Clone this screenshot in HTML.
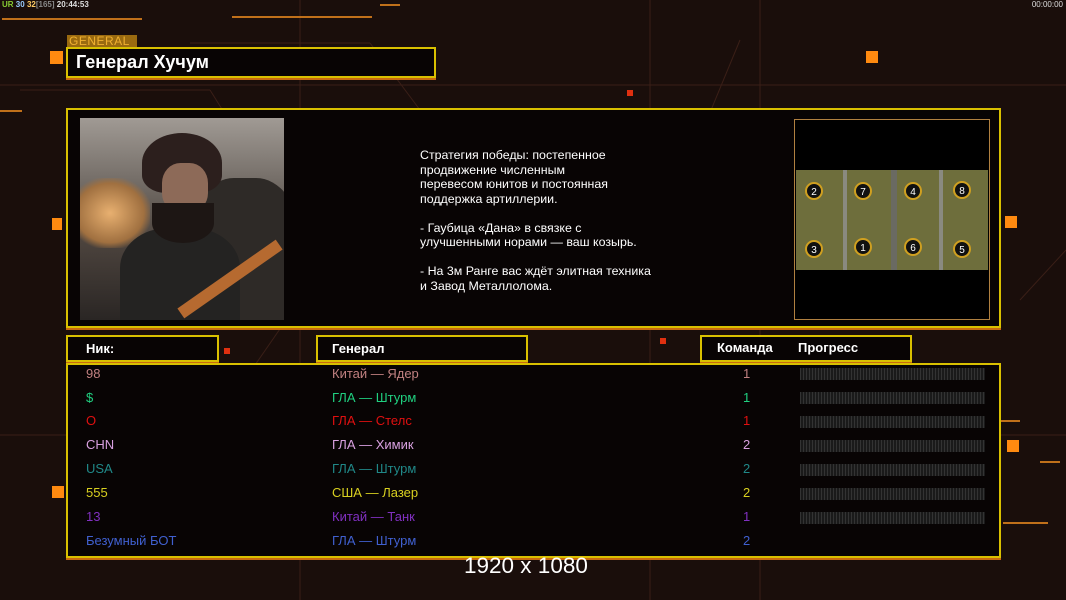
<!DOCTYPE html>
<html><head><meta charset="utf-8">
<style>
*{margin:0;padding:0;box-sizing:border-box}
body{width:1066px;height:600px;overflow:hidden;background:#1a0e0b;font-family:"Liberation Sans",sans-serif;position:relative}
.a{position:absolute}
.box{position:absolute;background:#080404;border:2px solid #d9c000;box-shadow:0 2px 0 #c86a10}
.hd{position:absolute;color:#fff;font-weight:bold;font-size:13px}
.row{position:absolute;font-size:13px}
.bar{position:absolute;left:800px;width:185px;height:12px;background:repeating-linear-gradient(90deg,#333 0 1px,#1a1a1a 1px 3px)}
.sq{position:absolute;background:#ff8a10}
.ln{position:absolute;height:2px;background:#c0701a}
</style></head><body>
<svg class="a" style="left:0;top:0" width="1066" height="600">
<g stroke="#3a1f17" stroke-width="1" fill="none">
<line x1="0" y1="85" x2="1066" y2="85"/><line x1="0" y1="435" x2="1066" y2="435"/>
<line x1="300" y1="0" x2="300" y2="600"/><line x1="650" y1="0" x2="650" y2="600"/><line x1="760" y1="0" x2="760" y2="600"/>
<line x1="20" y1="90" x2="210" y2="90"/><line x1="210" y1="90" x2="260" y2="170"/>
<line x1="190" y1="43" x2="370" y2="43"/><line x1="370" y1="43" x2="420" y2="110"/>
<line x1="620" y1="330" x2="740" y2="40"/><line x1="210" y1="430" x2="300" y2="300"/>
<line x1="1020" y1="300" x2="1066" y2="250"/>
</g></svg>
<div class="ln" style="left:2px;top:18px;width:140px"></div>
<div class="ln" style="left:232px;top:16px;width:140px"></div>
<div class="ln" style="left:380px;top:4px;width:20px"></div>
<div class="ln" style="left:0;top:110px;width:22px"></div>
<div class="ln" style="left:985px;top:420px;width:35px"></div>
<div class="ln" style="left:1040px;top:461px;width:20px"></div>
<div class="ln" style="left:1003px;top:522px;width:45px"></div>
<div class="sq" style="left:50px;top:51px;width:13px;height:13px"></div>
<div class="sq" style="left:866px;top:51px;width:12px;height:12px"></div>
<div class="sq" style="left:1005px;top:216px;width:12px;height:12px"></div>
<div class="sq" style="left:1007px;top:440px;width:12px;height:12px"></div>
<div class="sq" style="left:52px;top:486px;width:12px;height:12px"></div>
<div class="sq" style="left:52px;top:218px;width:10px;height:12px"></div>
<div class="a" style="left:627px;top:90px;width:6px;height:6px;background:#e03010"></div>
<div class="a" style="left:224px;top:348px;width:6px;height:6px;background:#e03010"></div>
<div class="a" style="left:660px;top:338px;width:6px;height:6px;background:#e03010"></div>
<div class="a" style="left:2px;top:0;font-size:8px;color:#ddd;font-weight:bold"><span style="color:#8c3">UR</span> <span style="color:#9cf">30</span> <span style="color:#fc6">32</span><span style="color:#888">[165]</span> 20:44:53</div>
<div class="a" style="right:3px;top:0;font-size:8px;color:#ddd">00:00:00</div>

<div class="a" style="left:67px;top:35px;width:70px;height:12px;background:#9a6a10;color:#f0b030;font-size:12px;line-height:12px;padding-left:2px;letter-spacing:0.5px">GENERAL</div>
<div class="box" style="left:66px;top:47px;width:370px;height:31px"></div>
<div class="hd" style="left:76px;top:52px;font-size:18px">Генерал Хучум</div>

<div class="box" style="left:66px;top:108px;width:935px;height:220px"></div>
<div class="a" style="left:80px;top:118px;width:204px;height:202px;overflow:hidden;background:linear-gradient(180deg,#a09a94 0%,#6f6862 35%,#4d443e 60%,#2a2624 100%)">
<div class="a" style="left:-10px;top:60px;width:80px;height:70px;background:radial-gradient(#e8b070,#a07040 60%,transparent 75%)"></div>
<div class="a" style="left:110px;top:60px;width:110px;height:150px;background:#2e2a27;border-radius:40% 40% 0 0"></div>
<div class="a" style="left:40px;top:110px;width:120px;height:100px;background:#242322;border-radius:40% 40% 0 0"></div>
<div class="a" style="left:62px;top:15px;width:80px;height:60px;background:#2c1f1d;border-radius:50% 50% 30% 30%"></div>
<div class="a" style="left:82px;top:45px;width:46px;height:50px;background:#8d6a58;border-radius:40%"></div>
<div class="a" style="left:72px;top:85px;width:62px;height:40px;background:#1d1614;border-radius:0 0 50% 50%"></div>
<div class="a" style="left:90px;top:155px;width:120px;height:12px;background:#b66a30;transform:rotate(-35deg)"></div>
</div>
<div class="a" style="left:420px;top:148px;font-size:12.4px;line-height:14.5px;color:#fff">Стратегия победы: постепенное<br>продвижение численным<br>перевесом юнитов и постоянная<br>поддержка артиллерии.<br><br>- Гаубица «Дана» в связке с<br>улучшенными норами — ваш козырь.<br><br>- На 3м Ранге вас ждёт элитная техника<br>и Завод Металлолома.</div>
<div class="a" style="left:794px;top:119px;width:196px;height:201px;background:#000;border:1px solid #b08040"></div>
<div class="a" style="left:796px;top:170px;width:192px;height:100px;background:#6e6e3c">
<div class="a" style="left:47px;top:0;width:4px;height:100px;background:#8a8a80"></div>
<div class="a" style="left:143px;top:0;width:4px;height:100px;background:#8a8a80"></div>
<div class="a" style="left:95px;top:0;width:6px;height:100px;background:#6a6a62"></div>
<svg class="a" style="left:0;top:0" width="192" height="100">
<g fill="#111" stroke="#d0a020" stroke-width="2"><circle cx="18" cy="21" r="8"/><circle cx="67" cy="21" r="8"/><circle cx="117" cy="21" r="8"/><circle cx="166" cy="20" r="8"/><circle cx="18" cy="79" r="8"/><circle cx="67" cy="77" r="8"/><circle cx="117" cy="77" r="8"/><circle cx="166" cy="79" r="8"/></g>
<g fill="#fff" font-size="10" font-family="Liberation Sans" text-anchor="middle"><text x="18" y="25">2</text><text x="67" y="25">7</text><text x="117" y="25">4</text><text x="166" y="24">8</text><text x="18" y="83">3</text><text x="67" y="81">1</text><text x="117" y="81">6</text><text x="166" y="83">5</text></g>
</svg></div>

<div class="box" style="left:66px;top:335px;width:153px;height:27px"></div>
<div class="hd" style="left:86px;top:341px">Ник:</div>
<div class="box" style="left:316px;top:335px;width:212px;height:27px"></div>
<div class="hd" style="left:332px;top:341px">Генерал</div>
<div class="box" style="left:700px;top:335px;width:212px;height:27px"></div>
<div class="hd" style="left:717px;top:340px">Команда</div>
<div class="hd" style="left:798px;top:340px">Прогресс</div>

<div class="box" style="left:66px;top:363px;width:935px;height:195px"></div>
<div class="row" style="left:86px;top:366px;color:#c08080">98</div><div class="row" style="left:332px;top:366px;color:#c08080">Китай — Ядер</div><div class="row" style="left:743px;top:366px;color:#c08080">1</div><div class="bar" style="top:368px"></div>
<div class="row" style="left:86px;top:390px;color:#20d080">$</div><div class="row" style="left:332px;top:390px;color:#20d080">ГЛА — Штурм</div><div class="row" style="left:743px;top:390px;color:#20d080">1</div><div class="bar" style="top:392px"></div>
<div class="row" style="left:86px;top:413px;color:#e01010">O</div><div class="row" style="left:332px;top:413px;color:#e01010">ГЛА — Стелс</div><div class="row" style="left:743px;top:413px;color:#e01010">1</div><div class="bar" style="top:416px"></div>
<div class="row" style="left:86px;top:437px;color:#d8a0e0">CHN</div><div class="row" style="left:332px;top:437px;color:#d8a0e0">ГЛА — Химик</div><div class="row" style="left:743px;top:437px;color:#d8a0e0">2</div><div class="bar" style="top:440px"></div>
<div class="row" style="left:86px;top:461px;color:#208888">USA</div><div class="row" style="left:332px;top:461px;color:#208888">ГЛА — Штурм</div><div class="row" style="left:743px;top:461px;color:#208888">2</div><div class="bar" style="top:464px"></div>
<div class="row" style="left:86px;top:485px;color:#d8d020">555</div><div class="row" style="left:332px;top:485px;color:#d8d020">США — Лазер</div><div class="row" style="left:743px;top:485px;color:#d8d020">2</div><div class="bar" style="top:488px"></div>
<div class="row" style="left:86px;top:509px;color:#8030c0">13</div><div class="row" style="left:332px;top:509px;color:#8030c0">Китай — Танк</div><div class="row" style="left:743px;top:509px;color:#8030c0">1</div><div class="bar" style="top:512px"></div>
<div class="row" style="left:86px;top:533px;color:#4060d0">Безумный БОТ</div><div class="row" style="left:332px;top:533px;color:#4060d0">ГЛА — Штурм</div><div class="row" style="left:743px;top:533px;color:#4060d0">2</div>

<div class="a" style="left:464px;top:553px;font-size:22.5px;color:#fff;font-family:'Liberation Sans',sans-serif">1920 x 1080</div>
</body></html>
